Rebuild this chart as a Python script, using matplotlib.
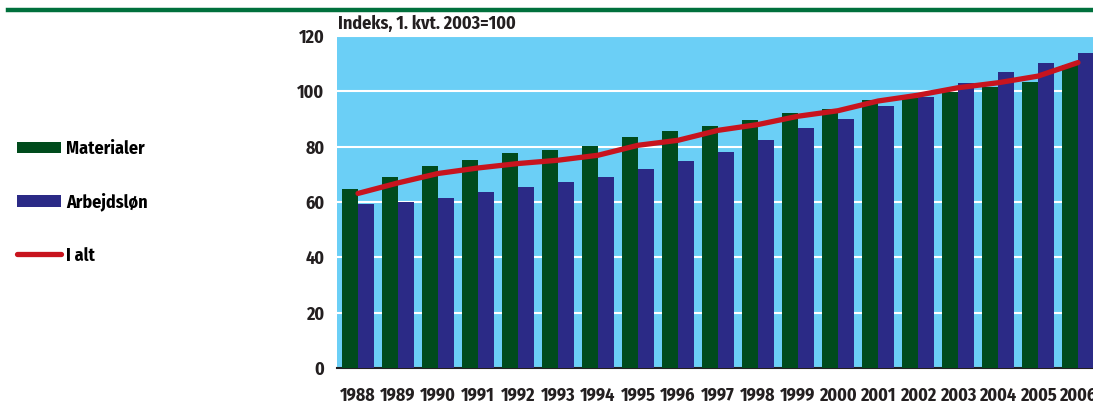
import numpy as np
import matplotlib
matplotlib.use("Agg")
import matplotlib.pyplot as plt
from matplotlib.patches import Patch
from matplotlib.lines import Line2D

plt.rcParams["font.family"] = ["Fira Sans Condensed", "DejaVu Sans"]
plt.rcParams["font.weight"] = "bold"

years = [str(y) for y in range(1988, 2007)]
materialer = [64.6, 69.0, 73.0, 75.1, 77.6, 78.7, 80.2, 83.4, 85.6, 87.4,
              89.6, 92.1, 93.6, 96.8, 97.5, 99.8, 101.4, 103.4, 109.5]
arbejdslon = [59.3, 59.9, 61.4, 63.5, 65.4, 67.2, 69.0, 71.9, 74.8, 78.0,
              82.3, 86.7, 89.9, 94.6, 98.0, 103.0, 106.9, 110.2, 113.8]
i_alt = [63.1, 66.9, 70.3, 72.3, 73.9, 75.1, 76.9, 80.5, 82.3, 85.9,
         88.0, 91.0, 93.0, 96.5, 98.6, 101.3, 103.1, 105.5, 110.4]

green = "#004B1C"
blue = "#2B2A86"
red = "#C8141E"
bg = "#6BCFF6"
ink = "#231F20"
fs = 13

fig = plt.figure(figsize=(10.93, 4.03), dpi=100)
ax = fig.add_axes([337 / 1093, 1 - 368 / 403, 1 - 337 / 1093, (368 - 36) / 403])

x = np.arange(len(years))
w = 0.4
ax.set_facecolor(bg)
ax.bar(x - w / 2, materialer, width=w, color=green, zorder=3)
ax.bar(x + w / 2, arbejdslon, width=w, color=blue, zorder=3)
ax.plot(x, i_alt, color=red, linewidth=3.8, solid_capstyle="round", zorder=4)

ax.set_xlim(-0.525, 18.375)
ax.set_ylim(0, 120)
ax.set_yticks(range(0, 121, 20))
ax.yaxis.grid(True, color="white", linewidth=1.5, zorder=1)
ax.set_axisbelow(True)
ax.set_xticks(x)
ax.set_xticklabels(years)
ax.tick_params(axis="both", length=0, labelsize=fs, colors=ink)
ax.tick_params(axis="y", pad=9)
ax.tick_params(axis="x", pad=14)
for s in ["top", "right", "left"]:
    ax.spines[s].set_visible(False)
ax.spines["bottom"].set_color(ink)
ax.spines["bottom"].set_linewidth(1.5)

fig.text(338 / 1093, 1 - 24 / 403, "Indeks, 1. kvt. 2003=100", fontsize=fs,
         color=ink, va="center", ha="left")

# green header rule
fig.add_artist(Line2D([8 / 1093, 1], [1 - 10 / 403, 1 - 10 / 403],
                      color="#00703C", linewidth=3.2, transform=fig.transFigure))

handles = [Patch(facecolor=green), Patch(facecolor=blue),
           Line2D([], [], color=red, linewidth=3.8, solid_capstyle="round")]
fig.legend(handles, ["Materialer", "Arbejdsløn", "I alt"],
           loc="center left", bbox_to_anchor=(17 / 1093, 1 - 202 / 403),
           frameon=False, fontsize=fs, handlelength=2.45, handleheight=0.62,
           handletextpad=0.28, labelspacing=1.95, borderaxespad=0, borderpad=0)

fig.savefig("out.png", dpi=100)
